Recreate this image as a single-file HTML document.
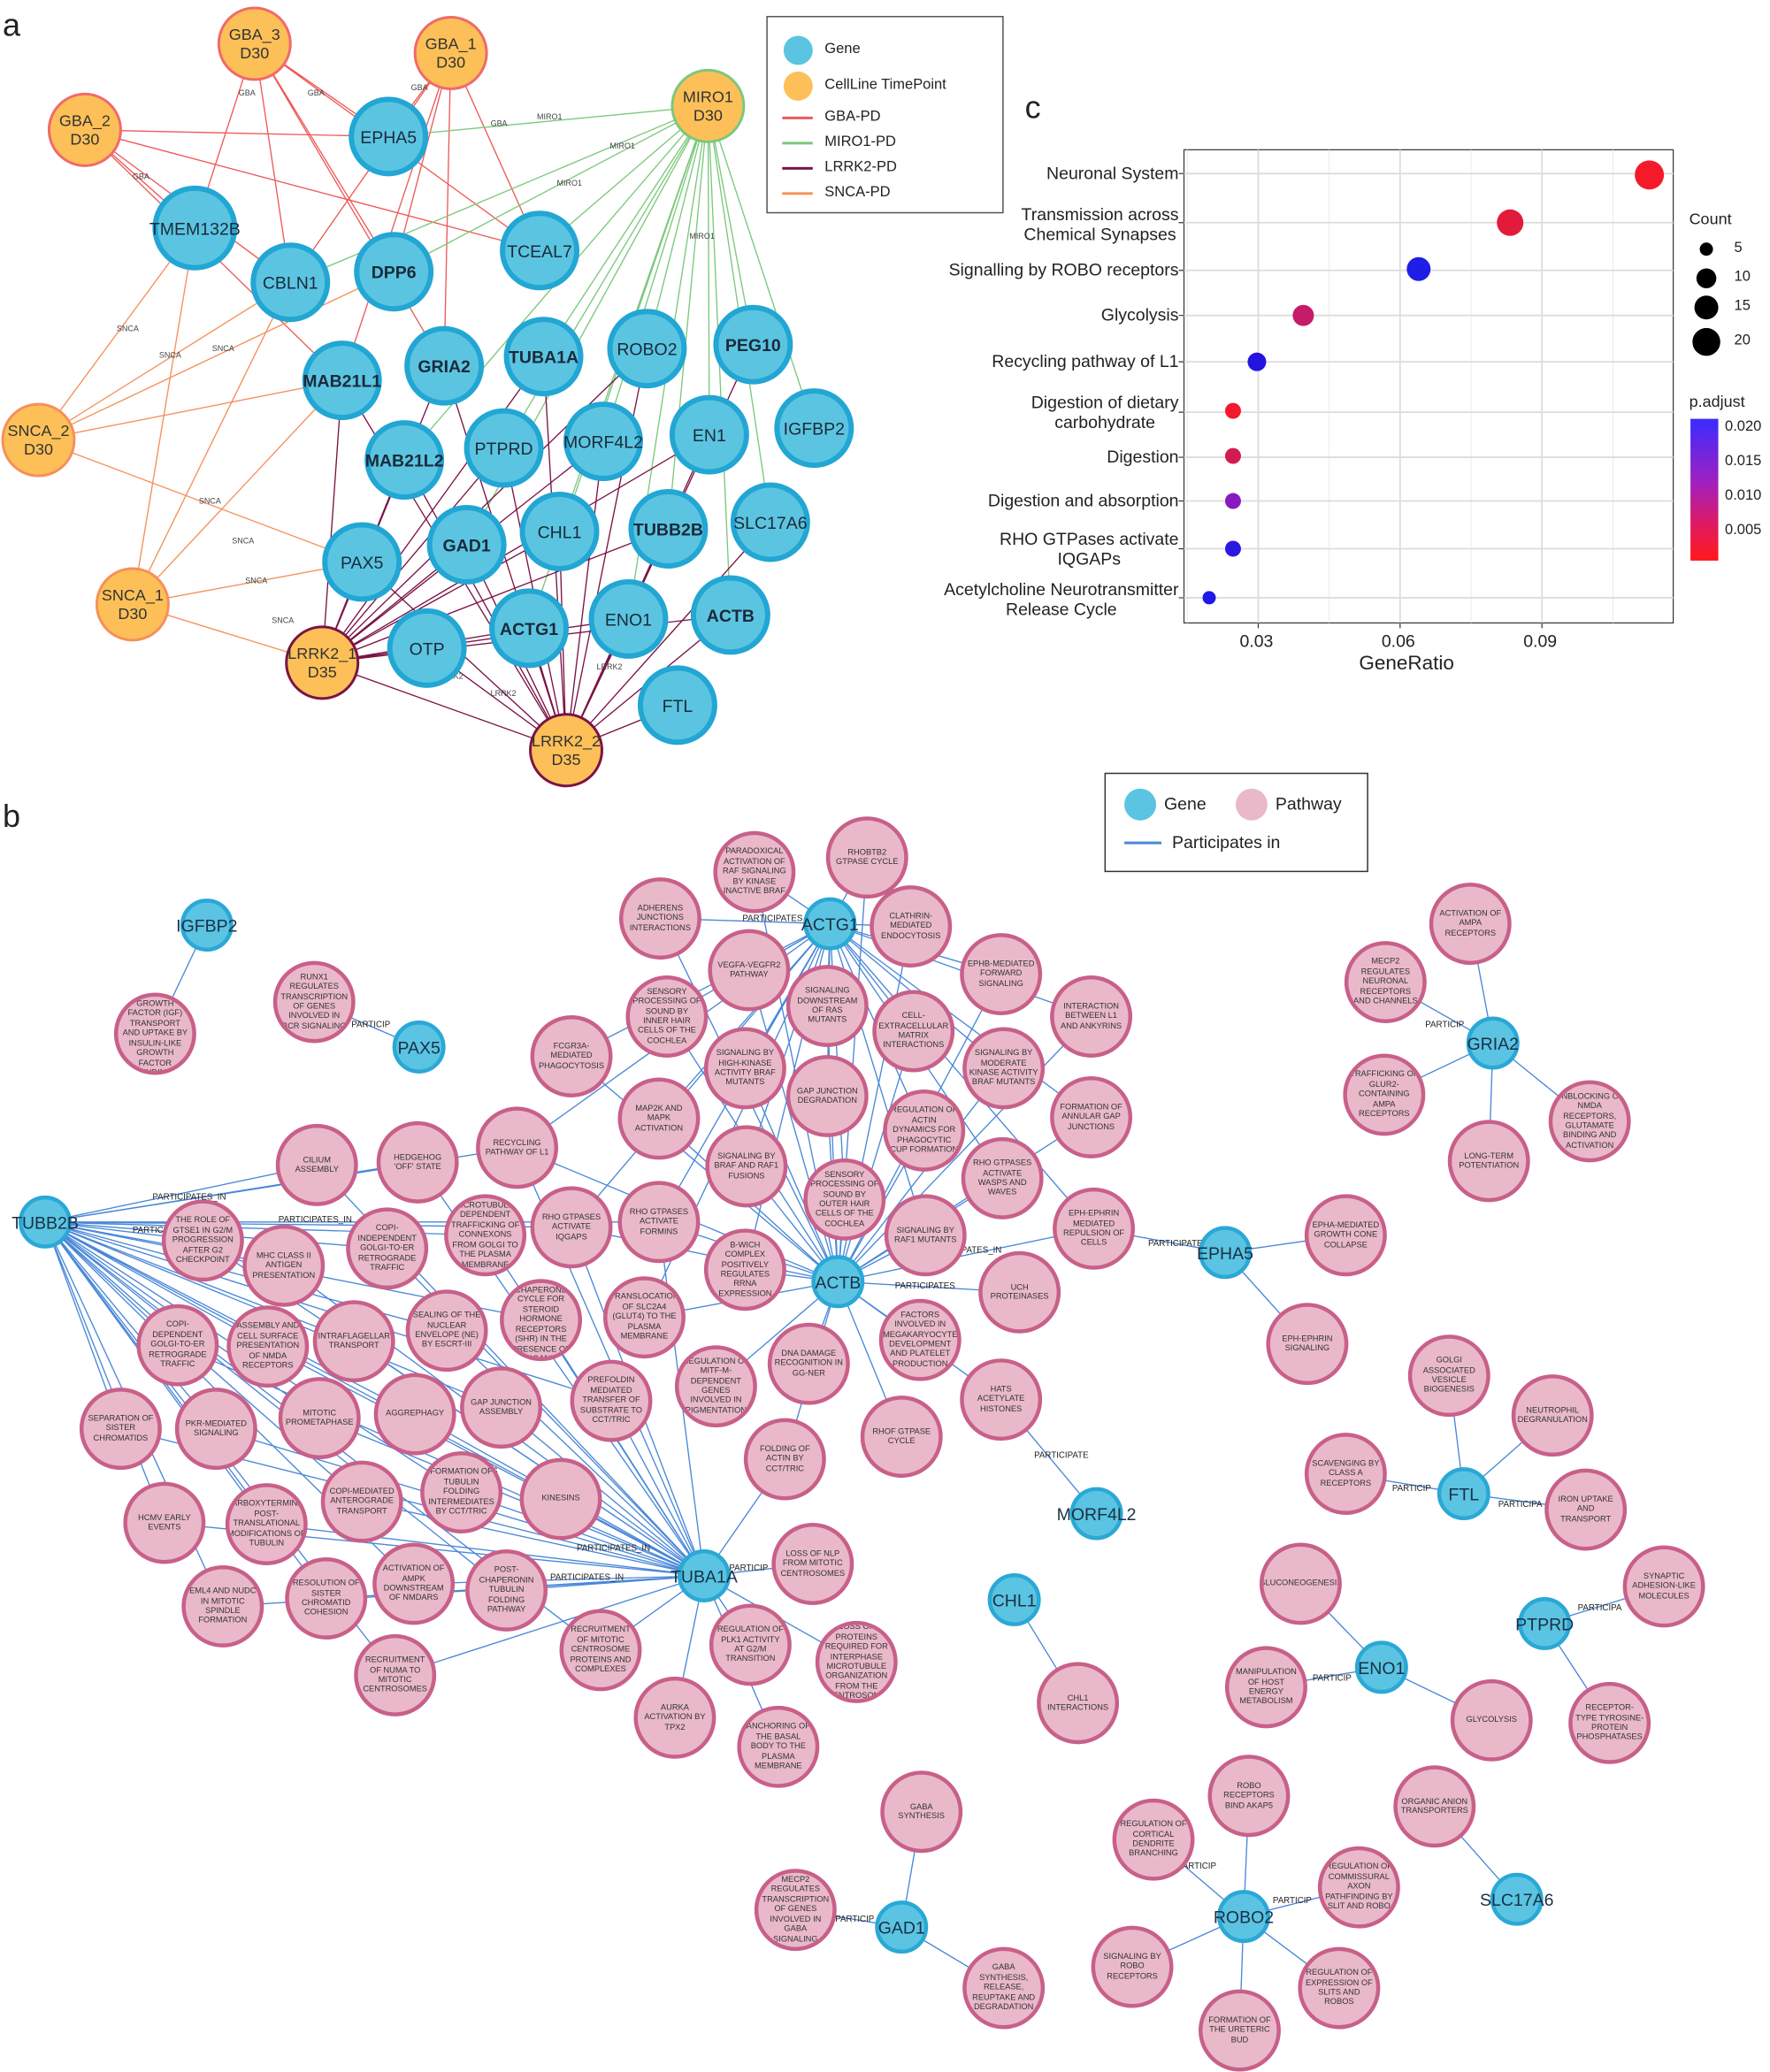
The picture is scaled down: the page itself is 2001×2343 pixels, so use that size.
<!DOCTYPE html>
<html><head><meta charset="utf-8"><style>
html,body{margin:0;padding:0;background:#fff;width:2001px;height:2341px;overflow:hidden}
#w{position:absolute;left:0;top:0;width:1335px;height:1562px;transform-origin:0 0;transform:scale(1.49888,1.49872);font-family:"Liberation Sans",Arial,sans-serif;color:#222}
svg{position:absolute;left:0;top:0}
.n{position:absolute;box-sizing:border-box;border-radius:50%;display:flex;align-items:center;justify-content:center;text-align:center}
.ga{width:60px;height:60px;margin:-30px 0 0 -30px;background:#5bc5e1;border:4px solid #22a6d4;font-size:13px;color:#1b2a3a}
.oa{width:56px;height:56px;margin:-28px 0 0 -28px;background:#fdc058;border:2px solid #f06a6a;font-size:12px;line-height:14px;color:#333}
.pw{width:62px;height:62px;margin:-31px 0 0 -31px;background:#e9b9c9;border:3px solid #c8608a;font-size:6.2px;line-height:7.4px;color:#333;padding:2px;overflow:hidden}
.gb{width:40px;height:40px;margin:-20px 0 0 -20px;background:#5ac4e2;border:3px solid #2aa8d6;font-size:13px;justify-content:center}
.gb span{position:absolute;white-space:nowrap;color:#1a3045}
.t{position:absolute;white-space:nowrap}
b{font-weight:bold}
</style></head><body><div id="w">
<svg width="1335" height="1562" viewBox="0 0 1335 1562">
<g fill="none" stroke-width="0.9">
<path stroke="#ee5a5a" d="M293 103L192 33M293 103L340 40M293 103L64 98M147 172L192 33M147 172L64 98M219 213L192 33M219 213L340 40M219 213L64 98M297 205L192 33M297 205L340 40M407 189L192 33M407 189L64 98M407 189L340 40M335 276L340 40M335 276L192 33M258 287L340 40M258 287L64 98"/>
<path stroke="#7cc87c" d="M293 103L534 80M297 205L534 80M407 189L534 80M410 269L534 80M488 263L534 80M568 260L534 80M455 333L534 80M535 328L534 80M614 323L534 80M581 394L534 80M504 399L534 80M422 401L534 80M380 338L534 80M474 467L534 80M399 474L534 80M219 213L534 80M352 411L534 80M551 464L534 80M305 347L534 80"/>
<path stroke="#7b1346" d="M258 287L243 500M305 347L243 500M335 276L243 500M380 338L243 500M352 411L243 500M422 401L243 500M455 333L243 500M504 399L243 500M399 474L243 500M474 467L243 500M551 464L243 500M322 489L243 500M273 424L243 500M410 269L243 500M535 328L243 500M488 263L243 500M258 287L427 566M305 347L427 566M335 276L427 566M380 338L427 566M352 411L427 566M422 401L427 566M455 333L427 566M504 399L427 566M399 474L427 566M474 467L427 566M551 464L427 566M322 489L427 566M511 532L427 566M535 328L427 566M488 263L427 566M410 269L427 566M568 260L427 566M581 394L427 566M273 424L427 566M243 500L427 566"/>
<path stroke="#f5905a" d="M147 172L29 332M147 172L100 456M219 213L29 332M219 213L100 456M258 287L29 332M258 287L100 456M273 424L29 332M273 424L100 456M243 500L100 456M297 205L29 332"/>
</g>
<g font-size="6" fill="#444">
<text x="180" y="72">GBA</text><text x="232" y="72">GBA</text><text x="310" y="68">GBA</text><text x="370" y="95">GBA</text><text x="100" y="135">GBA</text>
<text x="405" y="90">MIRO1</text><text x="460" y="112">MIRO1</text><text x="420" y="140">MIRO1</text><text x="520" y="180">MIRO1</text>
<text x="88" y="250">SNCA</text><text x="120" y="270">SNCA</text><text x="160" y="265">SNCA</text><text x="150" y="380">SNCA</text><text x="175" y="410">SNCA</text><text x="185" y="440">SNCA</text><text x="205" y="470">SNCA</text>
<text x="330" y="512">LRRK2</text><text x="370" y="525">LRRK2</text><text x="450" y="505">LRRK2</text>
</g>
<rect x="893" y="113" width="369" height="357" fill="#fff" stroke="#333" stroke-width="0.8"/>
<g stroke="#ebebeb" stroke-width="0.7"><path d="M895.5 113V470M1002.5 113V470M1109.5 113V470M1216.5 113V470"/></g>
<g stroke="#dcdcdc" stroke-width="1.2"><path d="M949 113V470M1056 113V470M1163 113V470M893 131H1262M893 168H1262M893 204H1262M893 238H1262M893 273H1262M893 311H1262M893 345H1262M893 378H1262M893 414H1262M893 451H1262"/></g>
<g stroke="#333" stroke-width="0.8"><path d="M889 131H893M889 168H893M889 204H893M889 238H893M889 273H893M889 311H893M889 345H893M889 378H893M889 414H893M889 451H893M949 470V474M1056 470V474M1163 470V474"/></g>
<circle cx="1244" cy="132" r="11" fill="#f51a2a"/><circle cx="1139" cy="168" r="10" fill="#e41a3a"/><circle cx="1070" cy="203" r="9" fill="#1e1ee6"/><circle cx="983" cy="238" r="8" fill="#c61a6a"/><circle cx="948" cy="273" r="7" fill="#2414e0"/><circle cx="930" cy="310" r="6" fill="#f21a2c"/><circle cx="930" cy="344" r="6" fill="#d41a52"/><circle cx="930" cy="378" r="6" fill="#8a18c0"/><circle cx="930" cy="414" r="6" fill="#2a1ae0"/><circle cx="912" cy="451" r="5" fill="#1e18e8"/>
<defs><linearGradient id="g" x1="0" y1="0" x2="0" y2="1"><stop offset="0" stop-color="#3a2cff"/><stop offset="0.45" stop-color="#a020c0"/><stop offset="0.75" stop-color="#e01a60"/><stop offset="1" stop-color="#ff1a1a"/></linearGradient></defs>
<rect x="1275" y="316" width="21" height="107" fill="url(#g)"/>
<circle cx="1287" cy="188" r="5"/><circle cx="1287" cy="210" r="7.5"/><circle cx="1287" cy="232" r="9"/><circle cx="1287" cy="258" r="10.5"/>
<g fill="none" stroke="#4a88d8" stroke-width="0.9">
<path d="M632 967L498 693L626 697M632 967L569 658L626 697M632 967L654 647L626 697M632 967L687 699L626 697M632 967L565 732L626 697M632 967L755 735L626 697M632 967L503 767L626 697M632 967L624 759L626 697M632 967L689 778L626 697M632 967L823 767L626 697M632 967L431 797L626 697M632 967L562 806L626 697M632 967L757 806L626 697M632 967L624 827L626 697M632 967L497 844L626 697M632 967L697 853L626 697M632 967L823 843L626 697M632 967L390 866L626 697M632 967L563 880L626 697M632 967L637 905L626 697M632 967L756 889L626 697M632 967L825 927L626 697M632 967L431 926L626 697M632 967L497 922L626 697M632 967L698 932L626 697M632 967L562 958L626 697M632 967L769 975M632 967L486 994L626 697M632 967L694 1011M632 967L610 1029M632 967L540 1046M632 967L755 1056L827 1142M632 967L680 1084M632 967L592 1101M825 927L924 945"/>
<path d="M34 922L239 879L531 1189M34 922L315 877L531 1189M34 922L153 936L531 1189M34 922L214 955L531 1189M34 922L292 942L531 1189M34 922L366 932L531 1189M34 922L408 996L531 1189M34 922L337 1004L531 1189M34 922L267 1012L531 1189M34 922L202 1016L531 1189M34 922L134 1015L531 1189M34 922L91 1078L531 1189M34 922L163 1078L531 1189M34 922L241 1070L531 1189M34 922L313 1067L531 1189M34 922L378 1062L531 1189M34 922L461 1057L531 1189M34 922L124 1149L531 1189M34 922L201 1150L531 1189M34 922L273 1133L531 1189M34 922L348 1126L531 1189M34 922L423 1131L531 1189M34 922L312 1195L531 1189M34 922L382 1200L531 1189M34 922L246 1206L531 1189M34 922L168 1212L531 1189M34 922L298 1264L531 1189M34 922L453 1245L531 1189M531 1189L566 1241M531 1189L613 1180M531 1189L646 1254M531 1189L509 1296M531 1189L587 1318M34 922L390 866L531 1189M34 922L431 926L531 1189M34 922L497 922L531 1189M531 1189L592 1101"/>
<path d="M156 698L117 780M316 790L237 756M1126 787L1109 697M1126 787L1045 741M1126 787L1044 826M1126 787L1199 846M1126 787L1123 876M924 945L1015 932M924 945L986 1014M1104 1127L1093 1038M1104 1127L1171 1068M1104 1127L1015 1112M1104 1127L1196 1139M765 1207L813 1285M1042 1258L981 1195M1042 1258L955 1273M1042 1258L1125 1298M1165 1225L1255 1197M1165 1225L1214 1300M680 1454L695 1367M680 1454L600 1441M680 1454L757 1500M938 1446L942 1355M938 1446L870 1388M938 1446L1025 1424M938 1446L854 1484M938 1446L1010 1500M938 1446L935 1532M1144 1433L1082 1363"/>
</g>
<g font-size="6.5" fill="#222">
<text x="115" y="905">PARTICIPATES_IN</text><text x="100" y="930">PARTICIPATES_IN</text><text x="210" y="922">PARTICIPATES_IN</text><text x="560" y="695">PARTICIPATES</text><text x="675" y="972">PARTICIPATES</text><text x="700" y="945">PARTICIPATES_IN</text><text x="415" y="1192">PARTICIPATES_IN</text><text x="435" y="1170">PARTICIPATES_IN</text><text x="866" y="940">PARTICIPATES</text><text x="1075" y="775">PARTICIP</text><text x="1050" y="1125">PARTICIP</text><text x="1130" y="1137">PARTICIPA</text><text x="990" y="1268">PARTICIP</text><text x="630" y="1450">PARTICIP</text><text x="1190" y="1215">PARTICIPA</text><text x="265" y="775">PARTICIP</text><text x="330" y="1112">PARTICIPATES</text><text x="780" y="1100">PARTICIPATE</text><text x="550" y="1185">PARTICIP</text><text x="960" y="1436">PARTICIP</text><text x="888" y="1410">PARTICIP</text>
</g>
<rect x="578.5" y="12.5" width="178" height="148" fill="#fff" stroke="#555"/>
<circle cx="602" cy="38" r="11" fill="#5bc5e1"/><circle cx="602" cy="65" r="11" fill="#fdc058"/>
<path d="M590 89H613" stroke="#ee5a5a" stroke-width="2"/><path d="M590 108H613" stroke="#7cc87c" stroke-width="2"/><path d="M590 127H613" stroke="#7b1346" stroke-width="2"/><path d="M590 146H613" stroke="#f5905a" stroke-width="2"/>
<rect x="833.5" y="583.5" width="198" height="74" fill="#fff" stroke="#333"/>
<circle cx="860" cy="607" r="12" fill="#5ac4e2"/><circle cx="944" cy="607" r="12" fill="#e9b9c9"/>
<path d="M848 636H876" stroke="#4a88d8" stroke-width="2"/>
</svg>

<div class="t" style="left:2px;top:6px;font-size:24px">a</div>
<div class="t" style="left:2px;top:603px;font-size:24px">b</div>
<div class="t" style="left:773px;top:68px;font-size:24px">c</div>
<div class="t" style="left:622px;top:31px;font-size:11px">Gene</div>
<div class="t" style="left:622px;top:58px;font-size:11px">CellLine TimePoint</div>
<div class="t" style="left:622px;top:82px;font-size:11px">GBA-PD</div>
<div class="t" style="left:622px;top:101px;font-size:11px">MIRO1-PD</div>
<div class="t" style="left:622px;top:120px;font-size:11px">LRRK2-PD</div>
<div class="t" style="left:622px;top:139px;font-size:11px">SNCA-PD</div>
<div class="t" style="left:878px;top:599px;font-size:13px">Gene</div>
<div class="t" style="left:962px;top:599px;font-size:13px">Pathway</div>
<div class="t" style="left:884px;top:628px;font-size:13px">Participates in</div>

<div style="position:absolute;left:640px;width:249px;top:0;font-size:13px;line-height:15px;text-align:right">
<div class="t" style="right:0;top:123px">Neuronal System</div>
<div class="t" style="right:0;top:154px;text-align:center">Transmission across<br>Chemical Synapses</div>
<div class="t" style="right:0;top:196px">Signalling by ROBO receptors</div>
<div class="t" style="right:0;top:230px">Glycolysis</div>
<div class="t" style="right:0;top:265px">Recycling pathway of L1</div>
<div class="t" style="right:0;top:296px;text-align:center">Digestion of dietary<br>carbohydrate</div>
<div class="t" style="right:0;top:337px">Digestion</div>
<div class="t" style="right:0;top:370px">Digestion and absorption</div>
<div class="t" style="right:0;top:399px;text-align:center">RHO GTPases activate<br>IQGAPs</div>
<div class="t" style="right:0;top:437px;text-align:center">Acetylcholine Neurotransmitter<br>Release Cycle</div>
</div>
<div class="t" style="left:935px;top:476px;font-size:13px">0.03</div>
<div class="t" style="left:1042px;top:476px;font-size:13px">0.06</div>
<div class="t" style="left:1149px;top:476px;font-size:13px">0.09</div>
<div class="t" style="left:1025px;top:492px;font-size:15px">GeneRatio</div>
<div class="t" style="left:1274px;top:158px;font-size:12px">Count</div>
<div class="t" style="left:1308px;top:181px;font-size:11px">5</div>
<div class="t" style="left:1308px;top:203px;font-size:11px">10</div>
<div class="t" style="left:1308px;top:225px;font-size:11px">15</div>
<div class="t" style="left:1308px;top:251px;font-size:11px">20</div>
<div class="t" style="left:1274px;top:296px;font-size:12px">p.adjust</div>
<div class="t" style="left:1301px;top:316px;font-size:11px">0.020</div>
<div class="t" style="left:1301px;top:342px;font-size:11px">0.015</div>
<div class="t" style="left:1301px;top:368px;font-size:11px">0.010</div>
<div class="t" style="left:1301px;top:394px;font-size:11px">0.005</div>

<div class="n oa" style="left:192px;top:33px">GBA_3<br>D30</div>
<div class="n oa" style="left:340px;top:40px">GBA_1<br>D30</div>
<div class="n oa" style="left:64px;top:98px">GBA_2<br>D30</div>
<div class="n oa" style="left:534px;top:80px;border-color:#7cc87c">MIRO1<br>D30</div>
<div class="n oa" style="left:29px;top:332px;border-color:#f5905a">SNCA_2<br>D30</div>
<div class="n oa" style="left:100px;top:456px;border-color:#f5905a">SNCA_1<br>D30</div>
<div class="n oa" style="left:243px;top:500px;border-color:#7b1346">LRRK2_1<br>D35</div>
<div class="n oa" style="left:427px;top:566px;border-color:#7b1346">LRRK2_2<br>D35</div>
<div class="n ga" style="left:293px;top:103px">EPHA5</div>
<div class="n ga" style="left:147px;top:172px;width:64px;height:64px;margin:-32px 0 0 -32px">TMEM132B</div>
<div class="n ga" style="left:219px;top:213px">CBLN1</div>
<div class="n ga" style="left:297px;top:205px"><b>DPP6</b></div>
<div class="n ga" style="left:407px;top:189px">TCEAL7</div>
<div class="n ga" style="left:258px;top:287px"><b>MAB21L1</b></div>
<div class="n ga" style="left:335px;top:276px"><b>GRIA2</b></div>
<div class="n ga" style="left:410px;top:269px"><b>TUBA1A</b></div>
<div class="n ga" style="left:488px;top:263px">ROBO2</div>
<div class="n ga" style="left:568px;top:260px"><b>PEG10</b></div>
<div class="n ga" style="left:305px;top:347px"><b>MAB21L2</b></div>
<div class="n ga" style="left:380px;top:338px">PTPRD</div>
<div class="n ga" style="left:455px;top:333px">MORF4L2</div>
<div class="n ga" style="left:535px;top:328px">EN1</div>
<div class="n ga" style="left:614px;top:323px">IGFBP2</div>
<div class="n ga" style="left:352px;top:411px"><b>GAD1</b></div>
<div class="n ga" style="left:422px;top:401px">CHL1</div>
<div class="n ga" style="left:504px;top:399px"><b>TUBB2B</b></div>
<div class="n ga" style="left:581px;top:394px">SLC17A6</div>
<div class="n ga" style="left:273px;top:424px">PAX5</div>
<div class="n ga" style="left:399px;top:474px"><b>ACTG1</b></div>
<div class="n ga" style="left:474px;top:467px">ENO1</div>
<div class="n ga" style="left:551px;top:464px"><b>ACTB</b></div>
<div class="n ga" style="left:322px;top:489px">OTP</div>
<div class="n ga" style="left:511px;top:532px">FTL</div>

<div class="n pw" style="left:117px;top:780px">REGULATION OF INSULIN-LIKE GROWTH FACTOR (IGF) TRANSPORT AND UPTAKE BY INSULIN-LIKE GROWTH FACTOR BINDING PROTEIN</div>
<div class="n pw" style="left:237px;top:756px">RUNX1 REGULATES TRANSCRIPTION OF GENES INVOLVED IN BCR SIGNALING</div>
<div class="n pw" style="left:498px;top:693px">ADHERENS JUNCTIONS INTERACTIONS</div>
<div class="n pw" style="left:569px;top:658px">PARADOXICAL ACTIVATION OF RAF SIGNALING BY KINASE INACTIVE BRAF</div>
<div class="n pw" style="left:654px;top:647px">RHOBTB2 GTPASE CYCLE</div>
<div class="n pw" style="left:687px;top:699px">CLATHRIN-MEDIATED ENDOCYTOSIS</div>
<div class="n pw" style="left:565px;top:732px">VEGFA-VEGFR2 PATHWAY</div>
<div class="n pw" style="left:755px;top:735px">EPHB-MEDIATED FORWARD SIGNALING</div>
<div class="n pw" style="left:503px;top:767px">SENSORY PROCESSING OF SOUND BY INNER HAIR CELLS OF THE COCHLEA</div>
<div class="n pw" style="left:624px;top:759px">SIGNALING DOWNSTREAM OF RAS MUTANTS</div>
<div class="n pw" style="left:689px;top:778px">CELL-EXTRACELLULAR MATRIX INTERACTIONS</div>
<div class="n pw" style="left:823px;top:767px">INTERACTION BETWEEN L1 AND ANKYRINS</div>
<div class="n pw" style="left:431px;top:797px">FCGR3A-MEDIATED PHAGOCYTOSIS</div>
<div class="n pw" style="left:562px;top:806px">SIGNALING BY HIGH-KINASE ACTIVITY BRAF MUTANTS</div>
<div class="n pw" style="left:757px;top:806px">SIGNALING BY MODERATE KINASE ACTIVITY BRAF MUTANTS</div>
<div class="n pw" style="left:624px;top:827px">GAP JUNCTION DEGRADATION</div>
<div class="n pw" style="left:497px;top:844px">MAP2K AND MAPK ACTIVATION</div>
<div class="n pw" style="left:697px;top:853px">REGULATION OF ACTIN DYNAMICS FOR PHAGOCYTIC CUP FORMATION</div>
<div class="n pw" style="left:823px;top:843px">FORMATION OF ANNULAR GAP JUNCTIONS</div>
<div class="n pw" style="left:239px;top:879px">CILIUM ASSEMBLY</div>
<div class="n pw" style="left:315px;top:877px">HEDGEHOG 'OFF' STATE</div>
<div class="n pw" style="left:390px;top:866px">RECYCLING PATHWAY OF L1</div>
<div class="n pw" style="left:563px;top:880px">SIGNALING BY BRAF AND RAF1 FUSIONS</div>
<div class="n pw" style="left:637px;top:905px">SENSORY PROCESSING OF SOUND BY OUTER HAIR CELLS OF THE COCHLEA</div>
<div class="n pw" style="left:756px;top:889px">RHO GTPASES ACTIVATE WASPS AND WAVES</div>
<div class="n pw" style="left:825px;top:927px">EPH-EPHRIN MEDIATED REPULSION OF CELLS</div>
<div class="n pw" style="left:153px;top:936px">THE ROLE OF GTSE1 IN G2/M PROGRESSION AFTER G2 CHECKPOINT</div>
<div class="n pw" style="left:214px;top:955px">MHC CLASS II ANTIGEN PRESENTATION</div>
<div class="n pw" style="left:292px;top:942px">COPI-INDEPENDENT GOLGI-TO-ER RETROGRADE TRAFFIC</div>
<div class="n pw" style="left:366px;top:932px">MICROTUBULE-DEPENDENT TRAFFICKING OF CONNEXONS FROM GOLGI TO THE PLASMA MEMBRANE</div>
<div class="n pw" style="left:431px;top:926px">RHO GTPASES ACTIVATE IQGAPS</div>
<div class="n pw" style="left:497px;top:922px">RHO GTPASES ACTIVATE FORMINS</div>
<div class="n pw" style="left:698px;top:932px">SIGNALING BY RAF1 MUTANTS</div>
<div class="n pw" style="left:562px;top:958px">B-WICH COMPLEX POSITIVELY REGULATES RRNA EXPRESSION</div>
<div class="n pw" style="left:769px;top:975px">UCH PROTEINASES</div>
<div class="n pw" style="left:1015px;top:932px">EPHA-MEDIATED GROWTH CONE COLLAPSE</div>
<div class="n pw" style="left:408px;top:996px">HSP90 CHAPERONE CYCLE FOR STEROID HORMONE RECEPTORS (SHR) IN THE PRESENCE OF LIGAND</div>
<div class="n pw" style="left:486px;top:994px">TRANSLOCATION OF SLC2A4 (GLUT4) TO THE PLASMA MEMBRANE</div>
<div class="n pw" style="left:337px;top:1004px">SEALING OF THE NUCLEAR ENVELOPE (NE) BY ESCRT-III</div>
<div class="n pw" style="left:267px;top:1012px">INTRAFLAGELLAR TRANSPORT</div>
<div class="n pw" style="left:202px;top:1016px">ASSEMBLY AND CELL SURFACE PRESENTATION OF NMDA RECEPTORS</div>
<div class="n pw" style="left:134px;top:1015px">COPI-DEPENDENT GOLGI-TO-ER RETROGRADE TRAFFIC</div>
<div class="n pw" style="left:694px;top:1011px">FACTORS INVOLVED IN MEGAKARYOCYTE DEVELOPMENT AND PLATELET PRODUCTION</div>
<div class="n pw" style="left:610px;top:1029px">DNA DAMAGE RECOGNITION IN GG-NER</div>
<div class="n pw" style="left:986px;top:1014px">EPH-EPHRIN SIGNALING</div>
<div class="n pw" style="left:540px;top:1046px">REGULATION OF MITF-M-DEPENDENT GENES INVOLVED IN PIGMENTATION</div>
<div class="n pw" style="left:755px;top:1056px">HATS ACETYLATE HISTONES</div>
<div class="n pw" style="left:91px;top:1078px">SEPARATION OF SISTER CHROMATIDS</div>
<div class="n pw" style="left:163px;top:1078px">PKR-MEDIATED SIGNALING</div>
<div class="n pw" style="left:241px;top:1070px">MITOTIC PROMETAPHASE</div>
<div class="n pw" style="left:313px;top:1067px">AGGREPHAGY</div>
<div class="n pw" style="left:378px;top:1062px">GAP JUNCTION ASSEMBLY</div>
<div class="n pw" style="left:461px;top:1057px">PREFOLDIN MEDIATED TRANSFER OF SUBSTRATE TO CCT/TRIC</div>
<div class="n pw" style="left:592px;top:1101px">FOLDING OF ACTIN BY CCT/TRIC</div>
<div class="n pw" style="left:680px;top:1084px">RHOF GTPASE CYCLE</div>
<div class="n pw" style="left:124px;top:1149px">HCMV EARLY EVENTS</div>
<div class="n pw" style="left:201px;top:1150px">CARBOXYTERMINAL POST-TRANSLATIONAL MODIFICATIONS OF TUBULIN</div>
<div class="n pw" style="left:273px;top:1133px">COPI-MEDIATED ANTEROGRADE TRANSPORT</div>
<div class="n pw" style="left:348px;top:1126px">FORMATION OF TUBULIN FOLDING INTERMEDIATES BY CCT/TRIC</div>
<div class="n pw" style="left:423px;top:1131px">KINESINS</div>
<div class="n pw" style="left:312px;top:1195px">ACTIVATION OF AMPK DOWNSTREAM OF NMDARS</div>
<div class="n pw" style="left:382px;top:1200px">POST-CHAPERONIN TUBULIN FOLDING PATHWAY</div>
<div class="n pw" style="left:246px;top:1206px">RESOLUTION OF SISTER CHROMATID COHESION</div>
<div class="n pw" style="left:168px;top:1212px">EML4 AND NUDC IN MITOTIC SPINDLE FORMATION</div>
<div class="n pw" style="left:613px;top:1180px">LOSS OF NLP FROM MITOTIC CENTROSOMES</div>
<div class="n pw" style="left:298px;top:1264px">RECRUITMENT OF NUMA TO MITOTIC CENTROSOMES</div>
<div class="n pw" style="left:453px;top:1245px">RECRUITMENT OF MITOTIC CENTROSOME PROTEINS AND COMPLEXES</div>
<div class="n pw" style="left:566px;top:1241px">REGULATION OF PLK1 ACTIVITY AT G2/M TRANSITION</div>
<div class="n pw" style="left:646px;top:1254px">LOSS OF PROTEINS REQUIRED FOR INTERPHASE MICROTUBULE ORGANIZATION FROM THE CENTROSOME</div>
<div class="n pw" style="left:509px;top:1296px">AURKA ACTIVATION BY TPX2</div>
<div class="n pw" style="left:587px;top:1318px">ANCHORING OF THE BASAL BODY TO THE PLASMA MEMBRANE</div>
<div class="n pw" style="left:1109px;top:697px">ACTIVATION OF AMPA RECEPTORS</div>
<div class="n pw" style="left:1045px;top:741px">MECP2 REGULATES NEURONAL RECEPTORS AND CHANNELS</div>
<div class="n pw" style="left:1044px;top:826px">TRAFFICKING OF GLUR2-CONTAINING AMPA RECEPTORS</div>
<div class="n pw" style="left:1199px;top:846px">UNBLOCKING OF NMDA RECEPTORS, GLUTAMATE BINDING AND ACTIVATION</div>
<div class="n pw" style="left:1123px;top:876px">LONG-TERM POTENTIATION</div>
<div class="n pw" style="left:1093px;top:1038px">GOLGI ASSOCIATED VESICLE BIOGENESIS</div>
<div class="n pw" style="left:1171px;top:1068px">NEUTROPHIL DEGRANULATION</div>
<div class="n pw" style="left:1015px;top:1112px">SCAVENGING BY CLASS A RECEPTORS</div>
<div class="n pw" style="left:1196px;top:1139px">IRON UPTAKE AND TRANSPORT</div>
<div class="n pw" style="left:813px;top:1285px">CHL1 INTERACTIONS</div>
<div class="n pw" style="left:981px;top:1195px">GLUCONEOGENESIS</div>
<div class="n pw" style="left:955px;top:1273px">MANIPULATION OF HOST ENERGY METABOLISM</div>
<div class="n pw" style="left:1125px;top:1298px">GLYCOLYSIS</div>
<div class="n pw" style="left:1255px;top:1197px">SYNAPTIC ADHESION-LIKE MOLECULES</div>
<div class="n pw" style="left:1214px;top:1300px">RECEPTOR-TYPE TYROSINE-PROTEIN PHOSPHATASES</div>
<div class="n pw" style="left:695px;top:1367px">GABA SYNTHESIS</div>
<div class="n pw" style="left:600px;top:1441px">MECP2 REGULATES TRANSCRIPTION OF GENES INVOLVED IN GABA SIGNALING</div>
<div class="n pw" style="left:757px;top:1500px">GABA SYNTHESIS, RELEASE, REUPTAKE AND DEGRADATION</div>
<div class="n pw" style="left:942px;top:1355px">ROBO RECEPTORS BIND AKAP5</div>
<div class="n pw" style="left:870px;top:1388px">REGULATION OF CORTICAL DENDRITE BRANCHING</div>
<div class="n pw" style="left:1025px;top:1424px">REGULATION OF COMMISSURAL AXON PATHFINDING BY SLIT AND ROBO</div>
<div class="n pw" style="left:854px;top:1484px">SIGNALING BY ROBO RECEPTORS</div>
<div class="n pw" style="left:1010px;top:1500px">REGULATION OF EXPRESSION OF SLITS AND ROBOS</div>
<div class="n pw" style="left:935px;top:1532px">FORMATION OF THE URETERIC BUD</div>
<div class="n pw" style="left:1082px;top:1363px">ORGANIC ANION TRANSPORTERS</div>

<div class="n gb" style="left:156px;top:698px"><span>IGFBP2</span></div>
<div class="n gb" style="left:316px;top:790px"><span>PAX5</span></div>
<div class="n gb" style="left:34px;top:922px"><span>TUBB2B</span></div>
<div class="n gb" style="left:531px;top:1189px"><span>TUBA1A</span></div>
<div class="n gb" style="left:632px;top:967px"><span>ACTB</span></div>
<div class="n gb" style="left:626px;top:697px"><span>ACTG1</span></div>
<div class="n gb" style="left:924px;top:945px"><span>EPHA5</span></div>
<div class="n gb" style="left:1126px;top:787px"><span>GRIA2</span></div>
<div class="n gb" style="left:827px;top:1142px"><span>MORF4L2</span></div>
<div class="n gb" style="left:1104px;top:1127px"><span>FTL</span></div>
<div class="n gb" style="left:765px;top:1207px"><span>CHL1</span></div>
<div class="n gb" style="left:1042px;top:1258px"><span>ENO1</span></div>
<div class="n gb" style="left:1165px;top:1225px"><span>PTPRD</span></div>
<div class="n gb" style="left:680px;top:1454px"><span>GAD1</span></div>
<div class="n gb" style="left:938px;top:1446px"><span>ROBO2</span></div>
<div class="n gb" style="left:1144px;top:1433px"><span>SLC17A6</span></div>
</div></body></html>
